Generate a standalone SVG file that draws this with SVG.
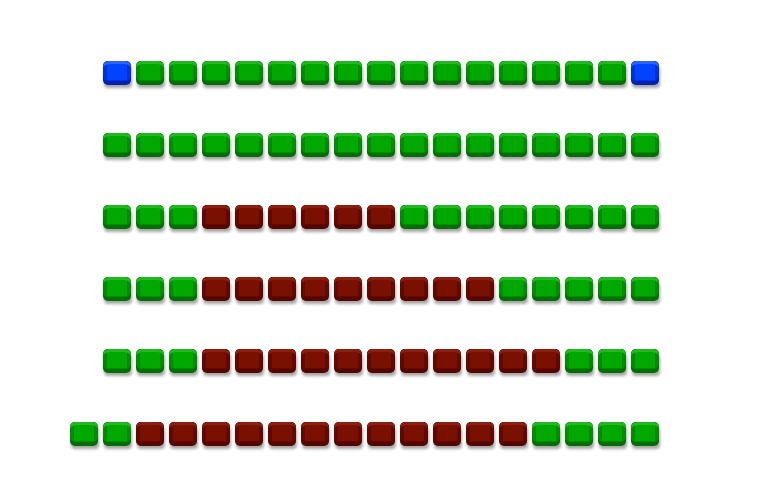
<svg xmlns="http://www.w3.org/2000/svg" xmlns:xlink="http://www.w3.org/1999/xlink" width="765" height="482" viewBox="0 0 765 482">
<style>
.bg{fill:#ffffff}
</style>
<defs>
<filter id="blur" x="-20%" y="-20%" width="140%" height="160%"><feGaussianBlur stdDeviation="1.4"/></filter>
<g id="shadow"><rect x="1" y="5" width="28" height="22" rx="4" fill="#000" opacity="0.35" filter="url(#blur)"/></g>
<g id="G">
<use xlink:href="#shadow"/>
<rect x="0" y="0" width="28" height="24" rx="5" fill="#006e00"/>
<rect x="0" y="0" width="28" height="20" rx="5" fill="#008c00"/>
<rect x="4" y="3" width="20" height="16" rx="1" fill="#00a800"/>
<path d="M0,6 Q0,0 6,0 L22,0 Q28,0 28,6 Q25,3 21,3 L7,3 Q3,3 0,6 Z" fill="#22b822"/>
</g>
<g id="R">
<use xlink:href="#shadow"/>
<rect x="0" y="0" width="28" height="24" rx="5" fill="#560600"/>
<rect x="0" y="0" width="28" height="20" rx="5" fill="#620800"/>
<rect x="4" y="3" width="20" height="16" rx="1" fill="#7a1000"/>
<path d="M0,6 Q0,0 6,0 L22,0 Q28,0 28,6 Q25,3 21,3 L7,3 Q3,3 0,6 Z" fill="#8c2010"/>
</g>
<g id="B">
<use xlink:href="#shadow"/>
<rect x="0" y="0" width="28" height="24" rx="5" fill="#0020b0"/>
<rect x="0" y="0" width="28" height="20" rx="5" fill="#0030d8"/>
<rect x="4" y="3" width="20" height="16" rx="1" fill="#0044ff"/>
<path d="M0,6 Q0,0 6,0 L22,0 Q28,0 28,6 Q25,3 21,3 L7,3 Q3,3 0,6 Z" fill="#2c62ff"/>
</g>
</defs>
<rect class="bg" x="0" y="0" width="765" height="482"/>
<g id="row1">
<use xlink:href="#B" x="103" y="61"/>
<use xlink:href="#G" x="136" y="61"/>
<use xlink:href="#G" x="169" y="61"/>
<use xlink:href="#G" x="202" y="61"/>
<use xlink:href="#G" x="235" y="61"/>
<use xlink:href="#G" x="268" y="61"/>
<use xlink:href="#G" x="301" y="61"/>
<use xlink:href="#G" x="334" y="61"/>
<use xlink:href="#G" x="367" y="61"/>
<use xlink:href="#G" x="400" y="61"/>
<use xlink:href="#G" x="433" y="61"/>
<use xlink:href="#G" x="466" y="61"/>
<use xlink:href="#G" x="499" y="61"/>
<use xlink:href="#G" x="532" y="61"/>
<use xlink:href="#G" x="565" y="61"/>
<use xlink:href="#G" x="598" y="61"/>
<use xlink:href="#B" x="631" y="61"/>
</g>
<g id="row2">
<use xlink:href="#G" x="103" y="133"/>
<use xlink:href="#G" x="136" y="133"/>
<use xlink:href="#G" x="169" y="133"/>
<use xlink:href="#G" x="202" y="133"/>
<use xlink:href="#G" x="235" y="133"/>
<use xlink:href="#G" x="268" y="133"/>
<use xlink:href="#G" x="301" y="133"/>
<use xlink:href="#G" x="334" y="133"/>
<use xlink:href="#G" x="367" y="133"/>
<use xlink:href="#G" x="400" y="133"/>
<use xlink:href="#G" x="433" y="133"/>
<use xlink:href="#G" x="466" y="133"/>
<use xlink:href="#G" x="499" y="133"/>
<use xlink:href="#G" x="532" y="133"/>
<use xlink:href="#G" x="565" y="133"/>
<use xlink:href="#G" x="598" y="133"/>
<use xlink:href="#G" x="631" y="133"/>
</g>
<g id="row3">
<use xlink:href="#G" x="103" y="205"/>
<use xlink:href="#G" x="136" y="205"/>
<use xlink:href="#G" x="169" y="205"/>
<use xlink:href="#R" x="202" y="205"/>
<use xlink:href="#R" x="235" y="205"/>
<use xlink:href="#R" x="268" y="205"/>
<use xlink:href="#R" x="301" y="205"/>
<use xlink:href="#R" x="334" y="205"/>
<use xlink:href="#R" x="367" y="205"/>
<use xlink:href="#G" x="400" y="205"/>
<use xlink:href="#G" x="433" y="205"/>
<use xlink:href="#G" x="466" y="205"/>
<use xlink:href="#G" x="499" y="205"/>
<use xlink:href="#G" x="532" y="205"/>
<use xlink:href="#G" x="565" y="205"/>
<use xlink:href="#G" x="598" y="205"/>
<use xlink:href="#G" x="631" y="205"/>
</g>
<g id="row4">
<use xlink:href="#G" x="103" y="277"/>
<use xlink:href="#G" x="136" y="277"/>
<use xlink:href="#G" x="169" y="277"/>
<use xlink:href="#R" x="202" y="277"/>
<use xlink:href="#R" x="235" y="277"/>
<use xlink:href="#R" x="268" y="277"/>
<use xlink:href="#R" x="301" y="277"/>
<use xlink:href="#R" x="334" y="277"/>
<use xlink:href="#R" x="367" y="277"/>
<use xlink:href="#R" x="400" y="277"/>
<use xlink:href="#R" x="433" y="277"/>
<use xlink:href="#R" x="466" y="277"/>
<use xlink:href="#G" x="499" y="277"/>
<use xlink:href="#G" x="532" y="277"/>
<use xlink:href="#G" x="565" y="277"/>
<use xlink:href="#G" x="598" y="277"/>
<use xlink:href="#G" x="631" y="277"/>
</g>
<g id="row5">
<use xlink:href="#G" x="103" y="349"/>
<use xlink:href="#G" x="136" y="349"/>
<use xlink:href="#G" x="169" y="349"/>
<use xlink:href="#R" x="202" y="349"/>
<use xlink:href="#R" x="235" y="349"/>
<use xlink:href="#R" x="268" y="349"/>
<use xlink:href="#R" x="301" y="349"/>
<use xlink:href="#R" x="334" y="349"/>
<use xlink:href="#R" x="367" y="349"/>
<use xlink:href="#R" x="400" y="349"/>
<use xlink:href="#R" x="433" y="349"/>
<use xlink:href="#R" x="466" y="349"/>
<use xlink:href="#R" x="499" y="349"/>
<use xlink:href="#R" x="532" y="349"/>
<use xlink:href="#G" x="565" y="349"/>
<use xlink:href="#G" x="598" y="349"/>
<use xlink:href="#G" x="631" y="349"/>
</g>
<g id="row6">
<use xlink:href="#G" x="70" y="422"/>
<use xlink:href="#G" x="103" y="422"/>
<use xlink:href="#R" x="136" y="422"/>
<use xlink:href="#R" x="169" y="422"/>
<use xlink:href="#R" x="202" y="422"/>
<use xlink:href="#R" x="235" y="422"/>
<use xlink:href="#R" x="268" y="422"/>
<use xlink:href="#R" x="301" y="422"/>
<use xlink:href="#R" x="334" y="422"/>
<use xlink:href="#R" x="367" y="422"/>
<use xlink:href="#R" x="400" y="422"/>
<use xlink:href="#R" x="433" y="422"/>
<use xlink:href="#R" x="466" y="422"/>
<use xlink:href="#R" x="499" y="422"/>
<use xlink:href="#G" x="532" y="422"/>
<use xlink:href="#G" x="565" y="422"/>
<use xlink:href="#G" x="598" y="422"/>
<use xlink:href="#G" x="631" y="422"/>
</g>
</svg>
